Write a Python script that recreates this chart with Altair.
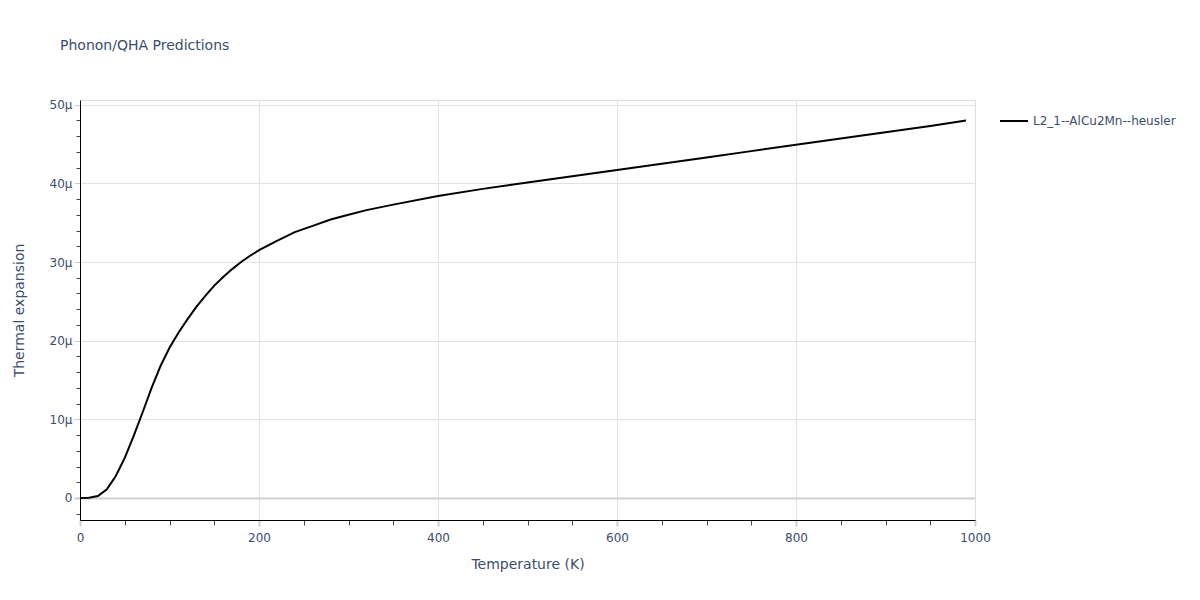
import altair as alt
import pandas as pd

temps = [0, 10, 20, 30, 40, 50, 60, 70, 80, 90, 100, 110, 120, 130, 140, 150, 160, 170, 180, 190,
         200, 220, 240, 260, 280, 300, 320, 350, 400, 450, 500, 550, 600, 650, 700, 750, 800,
         850, 900, 950, 990]
alpha_micro = [0.0, 0.02, 0.25, 1.1, 2.8, 5.1, 7.9, 10.9, 14.0, 16.8, 19.1, 21.0, 22.7, 24.3, 25.7,
               27.0, 28.1, 29.1, 30.0, 30.8, 31.5, 32.7, 33.8, 34.6, 35.4, 36.0, 36.6, 37.3, 38.4,
               39.3, 40.1, 40.9, 41.7, 42.5, 43.3, 44.1, 44.9, 45.7, 46.5, 47.3, 48.0]
series_name = "L2_1--AlCu2Mn--heusler"

df = pd.DataFrame({
    "T": temps,
    "alpha": [v * 1e-6 for v in alpha_micro],
    "series": series_name,
})

x_ticks = list(range(0, 1001, 50))
y_ticks = [v * 1e-6 for v in range(-2, 51, 2)]

FONT = "DejaVu Sans"
TXT = "#3b4d6e"
GRID = "#e2e2e2"
ZERO = "#cfcfcf"
MINOR = "#444444"

x_major = "datum.value % 200 == 0"
y_major = "round(datum.value*1e6) % 10 == 0"
y_zero = "round(datum.value*1e6) == 0"

line = alt.Chart(df).mark_line(strokeWidth=2).encode(
    x=alt.X("T:Q", scale=alt.Scale(domain=[0, 1000], nice=False),
            axis=alt.Axis(title="Temperature (K)", values=x_ticks, format="d",
                          labelExpr=f"{x_major} ? datum.label : ''",
                          labelFlush=False,
                          grid=True,
                          gridOpacity={"condition": {"test": f"{x_major} && datum.value > 0 && datum.value < 1000", "value": 1}, "value": 0},
                          gridColor=GRID, gridWidth=1,
                          domainColor="black", domainWidth=1,
                          tickColor={"condition": {"test": x_major, "value": "#cccccc"}, "value": MINOR},
                          tickSize={"condition": {"test": x_major, "value": 6}, "value": 5},
                          tickWidth={"condition": {"test": x_major, "value": 2}, "value": 1},
                          labelPadding=6, labelFontSize=12, labelColor=TXT, labelFont=FONT,
                          titleFontSize=14, titleColor=TXT, titleFont=FONT, titleFontWeight="normal",
                          titlePadding=14)),
    y=alt.Y("alpha:Q", scale=alt.Scale(domain=[-2.8e-6, 50.6e-6], nice=False, zero=False),
            axis=alt.Axis(title="Thermal expansion", values=y_ticks, format="~s",
                          labelExpr=f"{y_zero} ? '0' : ({y_major} ? datum.label : '')",
                          grid=True,
                          gridOpacity={"condition": {"test": y_major, "value": 1}, "value": 0},
                          gridColor={"condition": {"test": y_zero, "value": ZERO}, "value": GRID},
                          gridWidth={"condition": {"test": y_zero, "value": 2}, "value": 1},
                          domainColor="black", domainWidth=1,
                          tickColor={"condition": {"test": y_major, "value": "#cccccc"},
                                     "value": MINOR},
                          tickSize={"condition": {"test": y_major, "value": 6}, "value": 4},
                          tickWidth={"condition": {"test": y_zero, "value": 2}, "value": 1},
                          tickOpacity=1,
                          labelPadding=2, labelFontSize=12, labelColor=TXT, labelFont=FONT,
                          titleFontSize=14, titleColor=TXT, titleFont=FONT, titleFontWeight="normal",
                          titlePadding=23)),
    color=alt.Color("series:N", scale=alt.Scale(range=["black"]),
                    legend=alt.Legend(title=None, orient="none", legendX=919, legendY=6,
                                      symbolType="stroke", symbolStrokeWidth=2, symbolSize=784,
                                      labelFontSize=12, labelColor=TXT, labelFont=FONT)),
)

chart = line.properties(
    width=895, height=420,
    autosize=alt.AutoSizeParams(type="none"),
    padding={"left": 72, "top": 92, "right": 217, "bottom": 72},
    title=alt.TitleParams("Phonon/QHA Predictions", anchor="start", frame="group", dx=-20, offset=46,
                          fontSize=14, font=FONT, color=TXT, fontWeight="normal"),
).configure_view(stroke=None).configure(background="white")

chart.save("out.html", embed_options={"renderer": "svg", "actions": False})
